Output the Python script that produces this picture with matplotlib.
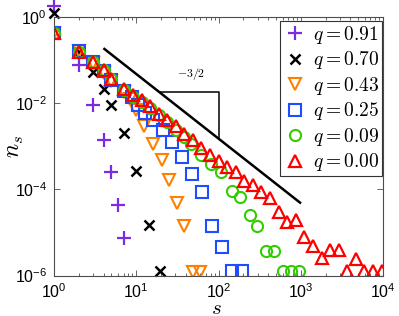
import matplotlib
matplotlib.use('Agg')
import matplotlib.pyplot as plt
import numpy as np
from matplotlib.font_manager import FontProperties
from matplotlib.ticker import FixedLocator, LogLocator, NullLocator, NullFormatter, FuncFormatter

plt.rcParams['font.family'] = ['Liberation Sans', 'DejaVu Sans']
plt.rcParams['mathtext.fontset'] = 'custom'
plt.rcParams['mathtext.rm'] = 'Liberation Sans'
plt.rcParams['mathtext.it'] = 'Liberation Sans:italic'
plt.rcParams['mathtext.bf'] = 'Liberation Sans:bold'

#Data for graph: cluster size s and cluster number n_s for each q
s_091 = [1, 2, 3, 4, 5, 6, 7]
n_091 = [1.8, 0.0769, 0.00908, 0.0014, 2.54e-4, 4.23e-5, 7.3e-6]

s_070 = [1, 2, 3, 4, 5, 7, 10, 14.2, 19.2]
n_070 = [1.24, 0.154, 0.0538, 0.0219, 0.00923, 0.00209, 2.67e-4, 1.49e-5, 1.3e-6]

s_043 = [1, 2, 3, 4, 5, 7, 8.5, 10.05, 12.4, 16, 20.4, 25, 31, 37.7, 48.9, 59.4]
n_043 = [0.425, 0.163, 0.0857, 0.0515, 0.0327, 0.0182, 0.0125, 0.00695, 0.00296,
         0.00116, 4.8e-4, 1.65e-4, 4.75e-5, 1.42e-5, 1.2e-6, 1.2e-6]

s_025 = [1, 2, 3, 4, 5, 7.1, 8.8, 10.6, 12.8, 16.1, 21.3, 27.5, 35.9, 47.1, 62.3,
         82.5, 109, 144, 191]
n_025 = [0.425, 0.167, 0.0904, 0.0558, 0.0345, 0.0192, 0.0139, 0.00908, 0.00593,
         0.00407, 0.00239, 0.00128, 5.65e-4, 2.22e-4, 8.7e-5, 1.42e-5, 4.7e-6,
         1.3e-6, 1.3e-6]

s_009 = [1, 2, 3, 4, 5, 7.1, 9.1, 11.6, 14.7, 18.7, 23.7, 30.2, 38.4, 46.2, 62,
         80.9, 108, 145.5, 184.6, 238.8, 295, 376.6, 477.9, 600.8, 751.6, 956.3]
n_009 = [0.425, 0.156, 0.0904, 0.0589, 0.0364, 0.0208, 0.0143, 0.01067, 0.00774,
         0.00519, 0.00366, 0.00245, 0.00164, 0.00116, 6.28e-4, 3.88e-4, 2.47e-4,
         9.2e-5, 6.7e-5, 2.48e-5, 1.42e-5, 3.7e-6, 3.7e-6, 1.3e-6, 1.3e-6, 1.3e-6]

s_000 = [1, 2, 3, 4, 5, 7.1, 9.1, 11.6, 14.7, 18.7, 23.7, 30.2, 38.4, 48.8, 62.1,
         78.9, 100, 128, 162, 206, 262, 333, 424, 539, 685, 871, 1107, 1408, 1790,
         2276, 2894, 3680, 4679, 5949, 7564, 9617]
n_000 = [0.425, 0.156, 0.0897, 0.0601, 0.0372, 0.0217, 0.0153, 0.01175, 0.00851,
         0.00575, 0.00418, 0.00292, 0.00197, 0.00138, 9.2e-4, 6.2e-4, 4.6e-4,
         3.3e-4, 2.5e-4, 1.53e-4, 1.24e-4, 8.5e-5, 6.2e-5, 2.96e-5, 1.74e-5,
         1.97e-5, 7.8e-6, 4.85e-6, 2.62e-6, 3.9e-6, 3.9e-6, 1.3e-6, 2.44e-6,
         1.3e-6, 1.3e-6, 1.3e-6]

#slope guide n ~ s^(-3/2)
guide_s = [4.1, 980]
guide_amp = 1.51
guide_exp = -1.5
tri_s = 100
tri_n = 0.0178

fig = plt.figure(figsize=(3.99, 3.16), dpi=100)
ax = fig.add_axes([0.1353, 0.128, 0.8247, 0.818])

ax.plot(s_091, n_091, ls='none', marker='+', ms=9.5, mew=1.6, color='#7b2be0',
        clip_on=False, label=r'$q = 0.91$')
ax.plot(s_070, n_070, ls='none', marker='x', ms=7.5, mew=1.8, color='k',
        clip_on=False, label=r'$q = 0.70$')
ax.plot(s_043, n_043, ls='none', marker='v', ms=8.5, mew=1.5, mfc='none',
        mec='#ff8000', label=r'$q = 0.43$')
ax.plot(s_025, n_025, ls='none', marker='s', ms=8, mew=1.5, mfc='none',
        mec='#1f4cff', label=r'$q = 0.25$')
ax.plot(s_009, n_009, ls='none', marker='o', ms=8, mew=1.5, mfc='none',
        mec='#33cc00', label=r'$q = 0.09$')
ax.plot(s_000, n_000, ls='none', marker='^', ms=8.8, mew=1.6, mfc='none',
        mec='#ff0000', label=r'$q = 0.00$')

#guide line and slope triangle
gs = np.array(guide_s)
ax.plot(gs, guide_amp * gs ** guide_exp, color='k', lw=1.8)
s_left = (tri_n / guide_amp) ** (1 / guide_exp)
ax.plot([s_left, tri_s, tri_s], [tri_n, tri_n, guide_amp * tri_s ** guide_exp],
        color='k', lw=1.1)
ax.text(47, 0.0476, r'$-3/2$', fontsize=8.5, math_fontfamily='cm',
        ha='center', va='center')

ax.set_xscale('log')
ax.set_yscale('log')
ax.set_xlim(1, 1e4)
ax.set_ylim(1e-6, 1)

fmt = FuncFormatter(lambda v, pos: r'$\mathregular{10^{%d}}$' % round(np.log10(v)))
ax.xaxis.set_major_locator(FixedLocator([1, 10, 100, 1e3, 1e4]))
ax.xaxis.set_minor_locator(LogLocator(base=10, subs=range(2, 10), numticks=20))
ax.xaxis.set_minor_formatter(NullFormatter())
ax.xaxis.set_major_formatter(fmt)
ax.yaxis.set_major_locator(FixedLocator([1e-6, 1e-4, 1e-2, 1]))
ax.yaxis.set_minor_locator(NullLocator())
ax.yaxis.set_major_formatter(fmt)
ax.tick_params(which='both', direction='in', top=True, right=True, width=0.6,
               labelsize=11.5, pad=5, color='0.3')
ax.tick_params(axis='x', pad=4.5)
ax.tick_params(which='major', length=4)
ax.tick_params(which='minor', length=2)
for sp in ax.spines.values():
    sp.set_color('0.3')
    sp.set_linewidth(0.8)

ax.set_xlabel(r'$s$', fontsize=15, math_fontfamily='cm', va='baseline')
ax.xaxis.set_label_coords(0.495, -0.147)
ax.set_ylabel(r'$n_s$', fontsize=17, math_fontfamily='cm')
ax.yaxis.set_label_coords(-0.086, 0.5)

leg = ax.legend(loc='upper right', bbox_to_anchor=(0.997, 0.985),
                prop=FontProperties(size=14, math_fontfamily='cm'),
                fancybox=False, framealpha=1, edgecolor='0.2',
                handlelength=1.25, handletextpad=0.3, labelspacing=0.18,
                borderpad=0.15, borderaxespad=0)
leg.get_frame().set_linewidth(0.8)

plt.savefig('out.png', dpi=100)
